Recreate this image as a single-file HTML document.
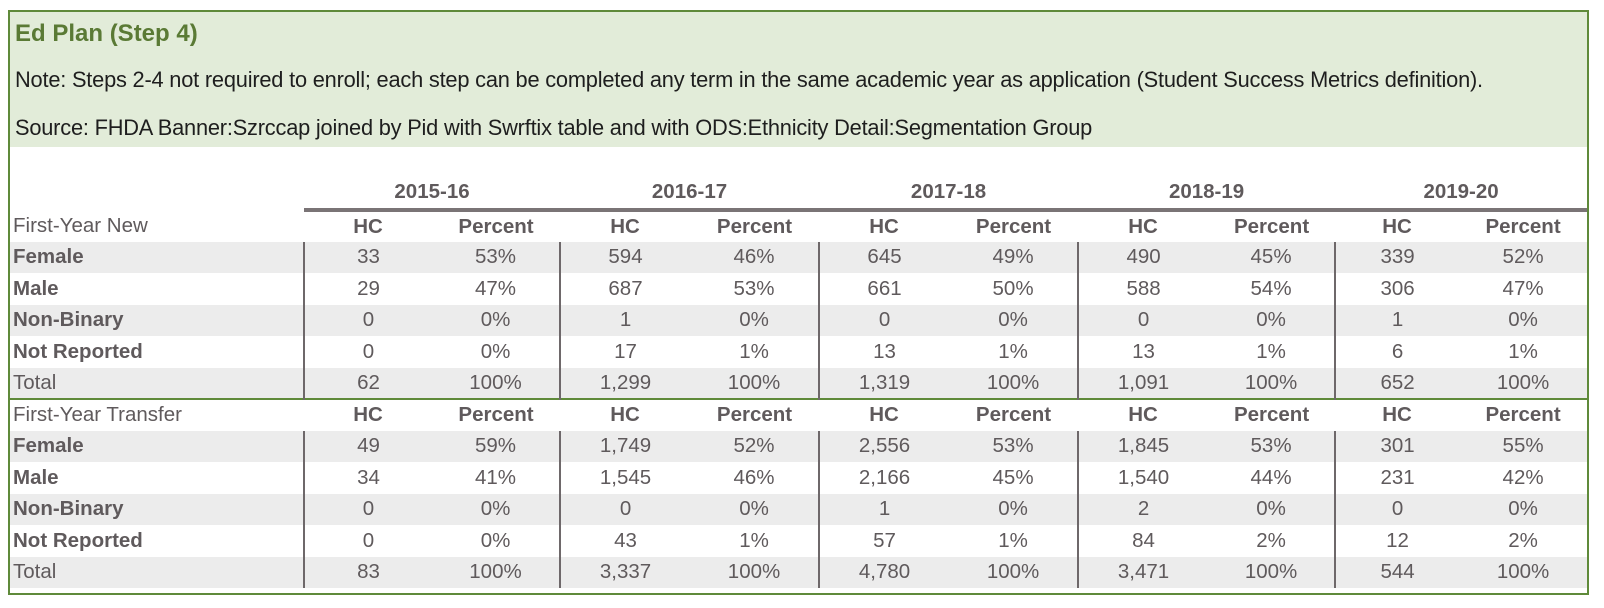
<!DOCTYPE html>
<html><head><meta charset="utf-8"><style>
*{margin:0;padding:0;box-sizing:border-box}
body{width:1604px;height:608px;background:#fff;font-family:"Liberation Sans",sans-serif;color:#5f5a5c;position:relative;overflow:hidden}
.box{position:absolute;left:8px;top:10px;width:1581px;height:585px;border:2px solid #5f8a3a}
.hdr{position:absolute;left:0;top:0;width:1577px;height:135px;background:#e2ecd9}
.t{position:absolute;left:5px;white-space:nowrap}
table{position:absolute;left:0;top:163px;border-collapse:collapse;table-layout:fixed;width:1577px}
td{text-align:center;font-size:20.5px;height:31.5px;padding:0;white-space:nowrap;line-height:20px}
td.l{text-align:left;padding-left:3px}
tr.g td{background:#ececec}
.b{font-weight:bold}
tr.yr td{height:35px;font-weight:bold;vertical-align:middle}
tr.yr td.u{border-bottom:4px solid #7a7476}
tr.sh td.h{font-weight:bold}
td.v{border-left:2px solid #6e686a}
tr.sep td{border-top:2px solid #5f8a3a}
</style></head><body>
<div class="box">
<div class="hdr"></div>
<div class="t" style="top:8px;font-size:24px;font-weight:bold;color:#5a7a35">Ed Plan (Step 4)</div>
<div class="t" style="top:55px;font-size:21.8px;color:#1e1e1e;letter-spacing:-0.2px">Note: Steps 2-4 not required to enroll; each step can be completed any term in the same academic year as application (Student Success Metrics definition).</div>
<div class="t" style="top:103px;font-size:21.8px;color:#1e1e1e;letter-spacing:-0.2px">Source: FHDA Banner:Szrccap joined by Pid with Swrftix table and with ODS:Ethnicity Detail:Segmentation Group</div>
<table>
<colgroup><col style="width:294px"><col style="width:128px"><col style="width:128px"><col style="width:130px"><col style="width:129px"><col style="width:130px"><col style="width:129px"><col style="width:130px"><col style="width:127px"><col style="width:124px"><col style="width:128px"></colgroup>
<tr class="yr"><td></td><td class="u" colspan="2">2015-16</td><td class="u" colspan="2">2016-17</td><td class="u" colspan="2">2017-18</td><td class="u" colspan="2">2018-19</td><td class="u" colspan="2">2019-20</td></tr>
<tr class="sh"><td class="l">First-Year New</td><td class="h">HC</td><td class="h">Percent</td><td class="h">HC</td><td class="h">Percent</td><td class="h">HC</td><td class="h">Percent</td><td class="h">HC</td><td class="h">Percent</td><td class="h">HC</td><td class="h">Percent</td></tr>
<tr class="g"><td class="l b">Female</td><td class="v">33</td><td>53%</td><td class="v">594</td><td>46%</td><td class="v">645</td><td>49%</td><td class="v">490</td><td>45%</td><td class="v">339</td><td>52%</td></tr>
<tr><td class="l b">Male</td><td class="v">29</td><td>47%</td><td class="v">687</td><td>53%</td><td class="v">661</td><td>50%</td><td class="v">588</td><td>54%</td><td class="v">306</td><td>47%</td></tr>
<tr class="g"><td class="l b">Non-Binary</td><td class="v">0</td><td>0%</td><td class="v">1</td><td>0%</td><td class="v">0</td><td>0%</td><td class="v">0</td><td>0%</td><td class="v">1</td><td>0%</td></tr>
<tr><td class="l b">Not Reported</td><td class="v">0</td><td>0%</td><td class="v">17</td><td>1%</td><td class="v">13</td><td>1%</td><td class="v">13</td><td>1%</td><td class="v">6</td><td>1%</td></tr>
<tr class="g"><td class="l">Total</td><td class="v">62</td><td>100%</td><td class="v">1,299</td><td>100%</td><td class="v">1,319</td><td>100%</td><td class="v">1,091</td><td>100%</td><td class="v">652</td><td>100%</td></tr>
<tr class="sh sep"><td class="l">First-Year Transfer</td><td class="h">HC</td><td class="h">Percent</td><td class="h">HC</td><td class="h">Percent</td><td class="h">HC</td><td class="h">Percent</td><td class="h">HC</td><td class="h">Percent</td><td class="h">HC</td><td class="h">Percent</td></tr>
<tr class="g"><td class="l b">Female</td><td class="v">49</td><td>59%</td><td class="v">1,749</td><td>52%</td><td class="v">2,556</td><td>53%</td><td class="v">1,845</td><td>53%</td><td class="v">301</td><td>55%</td></tr>
<tr><td class="l b">Male</td><td class="v">34</td><td>41%</td><td class="v">1,545</td><td>46%</td><td class="v">2,166</td><td>45%</td><td class="v">1,540</td><td>44%</td><td class="v">231</td><td>42%</td></tr>
<tr class="g"><td class="l b">Non-Binary</td><td class="v">0</td><td>0%</td><td class="v">0</td><td>0%</td><td class="v">1</td><td>0%</td><td class="v">2</td><td>0%</td><td class="v">0</td><td>0%</td></tr>
<tr><td class="l b">Not Reported</td><td class="v">0</td><td>0%</td><td class="v">43</td><td>1%</td><td class="v">57</td><td>1%</td><td class="v">84</td><td>2%</td><td class="v">12</td><td>2%</td></tr>
<tr class="g"><td class="l">Total</td><td class="v">83</td><td>100%</td><td class="v">3,337</td><td>100%</td><td class="v">4,780</td><td>100%</td><td class="v">3,471</td><td>100%</td><td class="v">544</td><td>100%</td></tr>
</table>
</div>
</body></html>
